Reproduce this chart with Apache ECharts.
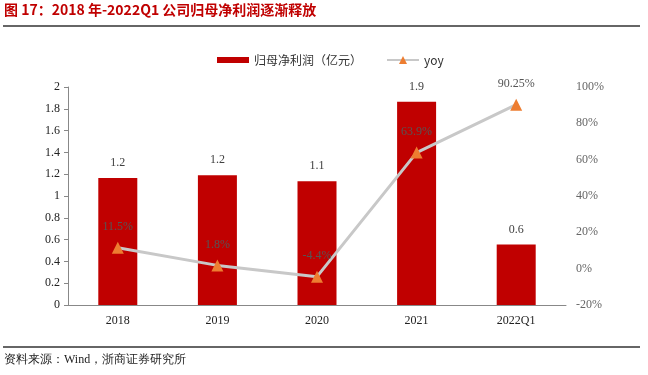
<!DOCTYPE html>
<html>
<head>
<meta charset="utf-8">
<script src="https://cdn.jsdelivr.net/npm/echarts@6/dist/echarts.min.js"></script>
<style>
  html, body { margin: 0; padding: 0; background: #fff; }
  #chart { width: 648px; height: 375px; }
</style>
</head>
<body>
<div id="chart"></div>
<script>
// 数据
const categories = ['2018', '2019', '2020', '2021', '2022Q1']
const profit = [1.165, 1.19, 1.135, 1.865, 0.555]
const profitLabels = ['1.2', '1.2', '1.1', '1.9', '0.6']
const yoy = [11.5, 1.8, -4.4, 63.9, 90.25]
const yoyLabels = ['11.5%', '1.8%', '-4.4%', '63.9%', '90.25%']

const serif = '"Liberation Serif", "Times New Roman", serif'
const cjk = '"Noto Sans CJK SC", sans-serif'

const myChart = echarts.init(document.getElementById('chart'))
const option = {
  animation: false,
  graphic: [
    {
      type: 'text', left: 4, top: 3,
      style: { text: '图 17：2018 年-2022Q1 公司归母净利润逐渐释放', fill: '#c00000', font: 'bold 14px ' + cjk }
    },
    { type: 'line', shape: { x1: 3, y1: 26, x2: 640, y2: 26 }, style: { stroke: '#333', lineWidth: 1.5 } },
    { type: 'line', shape: { x1: 3, y1: 347, x2: 640, y2: 347 }, style: { stroke: '#333', lineWidth: 1.5 } },
    {
      type: 'text', left: 4, top: 354,
      style: { text: '资料来源：Wind，浙商证券研究所', fill: '#222', font: '12px ' + serif }
    }
  ],
  legend: {
    top: 49,
    left: 212,
    itemGap: 24,
    textStyle: { fontFamily: cjk, fontSize: 12, color: '#333' },
    data: [
      { name: '归母净利润（亿元）', icon: 'path://M0,2h32v6H0z', itemStyle: { color: '#c00000' } },
      { name: 'yoy' }
    ],
    itemWidth: 32,
    itemHeight: 10
  },
  grid: { left: 68, right: 82, top: 87, bottom: 70 },
  xAxis: {
    type: 'category',
    data: categories,
    axisLine: { lineStyle: { color: '#888' } },
    axisTick: { inside: true, length: 5, lineStyle: { color: '#888' } },
    axisLabel: { color: '#222', fontFamily: serif, fontSize: 12, margin: 10 }
  },
  yAxis: [
    {
      type: 'value', min: 0, max: 2, interval: 0.2,
      axisLine: { show: true, lineStyle: { color: '#888' } },
      axisTick: { show: true, length: 4, lineStyle: { color: '#888' } },
      splitLine: { show: false },
      axisLabel: { color: '#222', fontFamily: serif, fontSize: 12, margin: 8,
        formatter: v => (Math.round(v * 10) / 10).toString() }
    },
    {
      type: 'value', min: -20, max: 100, interval: 20,
      axisLine: { show: false },
      axisTick: { show: false },
      splitLine: { show: false },
      axisLabel: { color: '#666', fontFamily: serif, fontSize: 12, margin: 10, align: 'left',
        formatter: '{value}%' }
    }
  ],
  series: [
    {
      name: '归母净利润（亿元）',
      type: 'bar',
      data: profit,
      barWidth: 39,
      itemStyle: { color: '#c00000' },
      label: {
        show: true, position: 'top', distance: 9,
        color: '#404040', fontFamily: serif, fontSize: 12,
        formatter: p => profitLabels[p.dataIndex]
      }
    },
    {
      name: 'yoy',
      type: 'line',
      yAxisIndex: 1,
      data: yoy,
      symbol: 'triangle',
      symbolSize: 12,
      lineStyle: { color: '#c8c8c8', width: 3 },
      itemStyle: { color: '#ed7d31' },
      label: {
        show: true, position: 'top', distance: 9,
        color: '#555', fontFamily: serif, fontSize: 12,
        formatter: p => yoyLabels[p.dataIndex]
      }
    }
  ]
}
myChart.setOption(option)
</script>
</body>
</html>
